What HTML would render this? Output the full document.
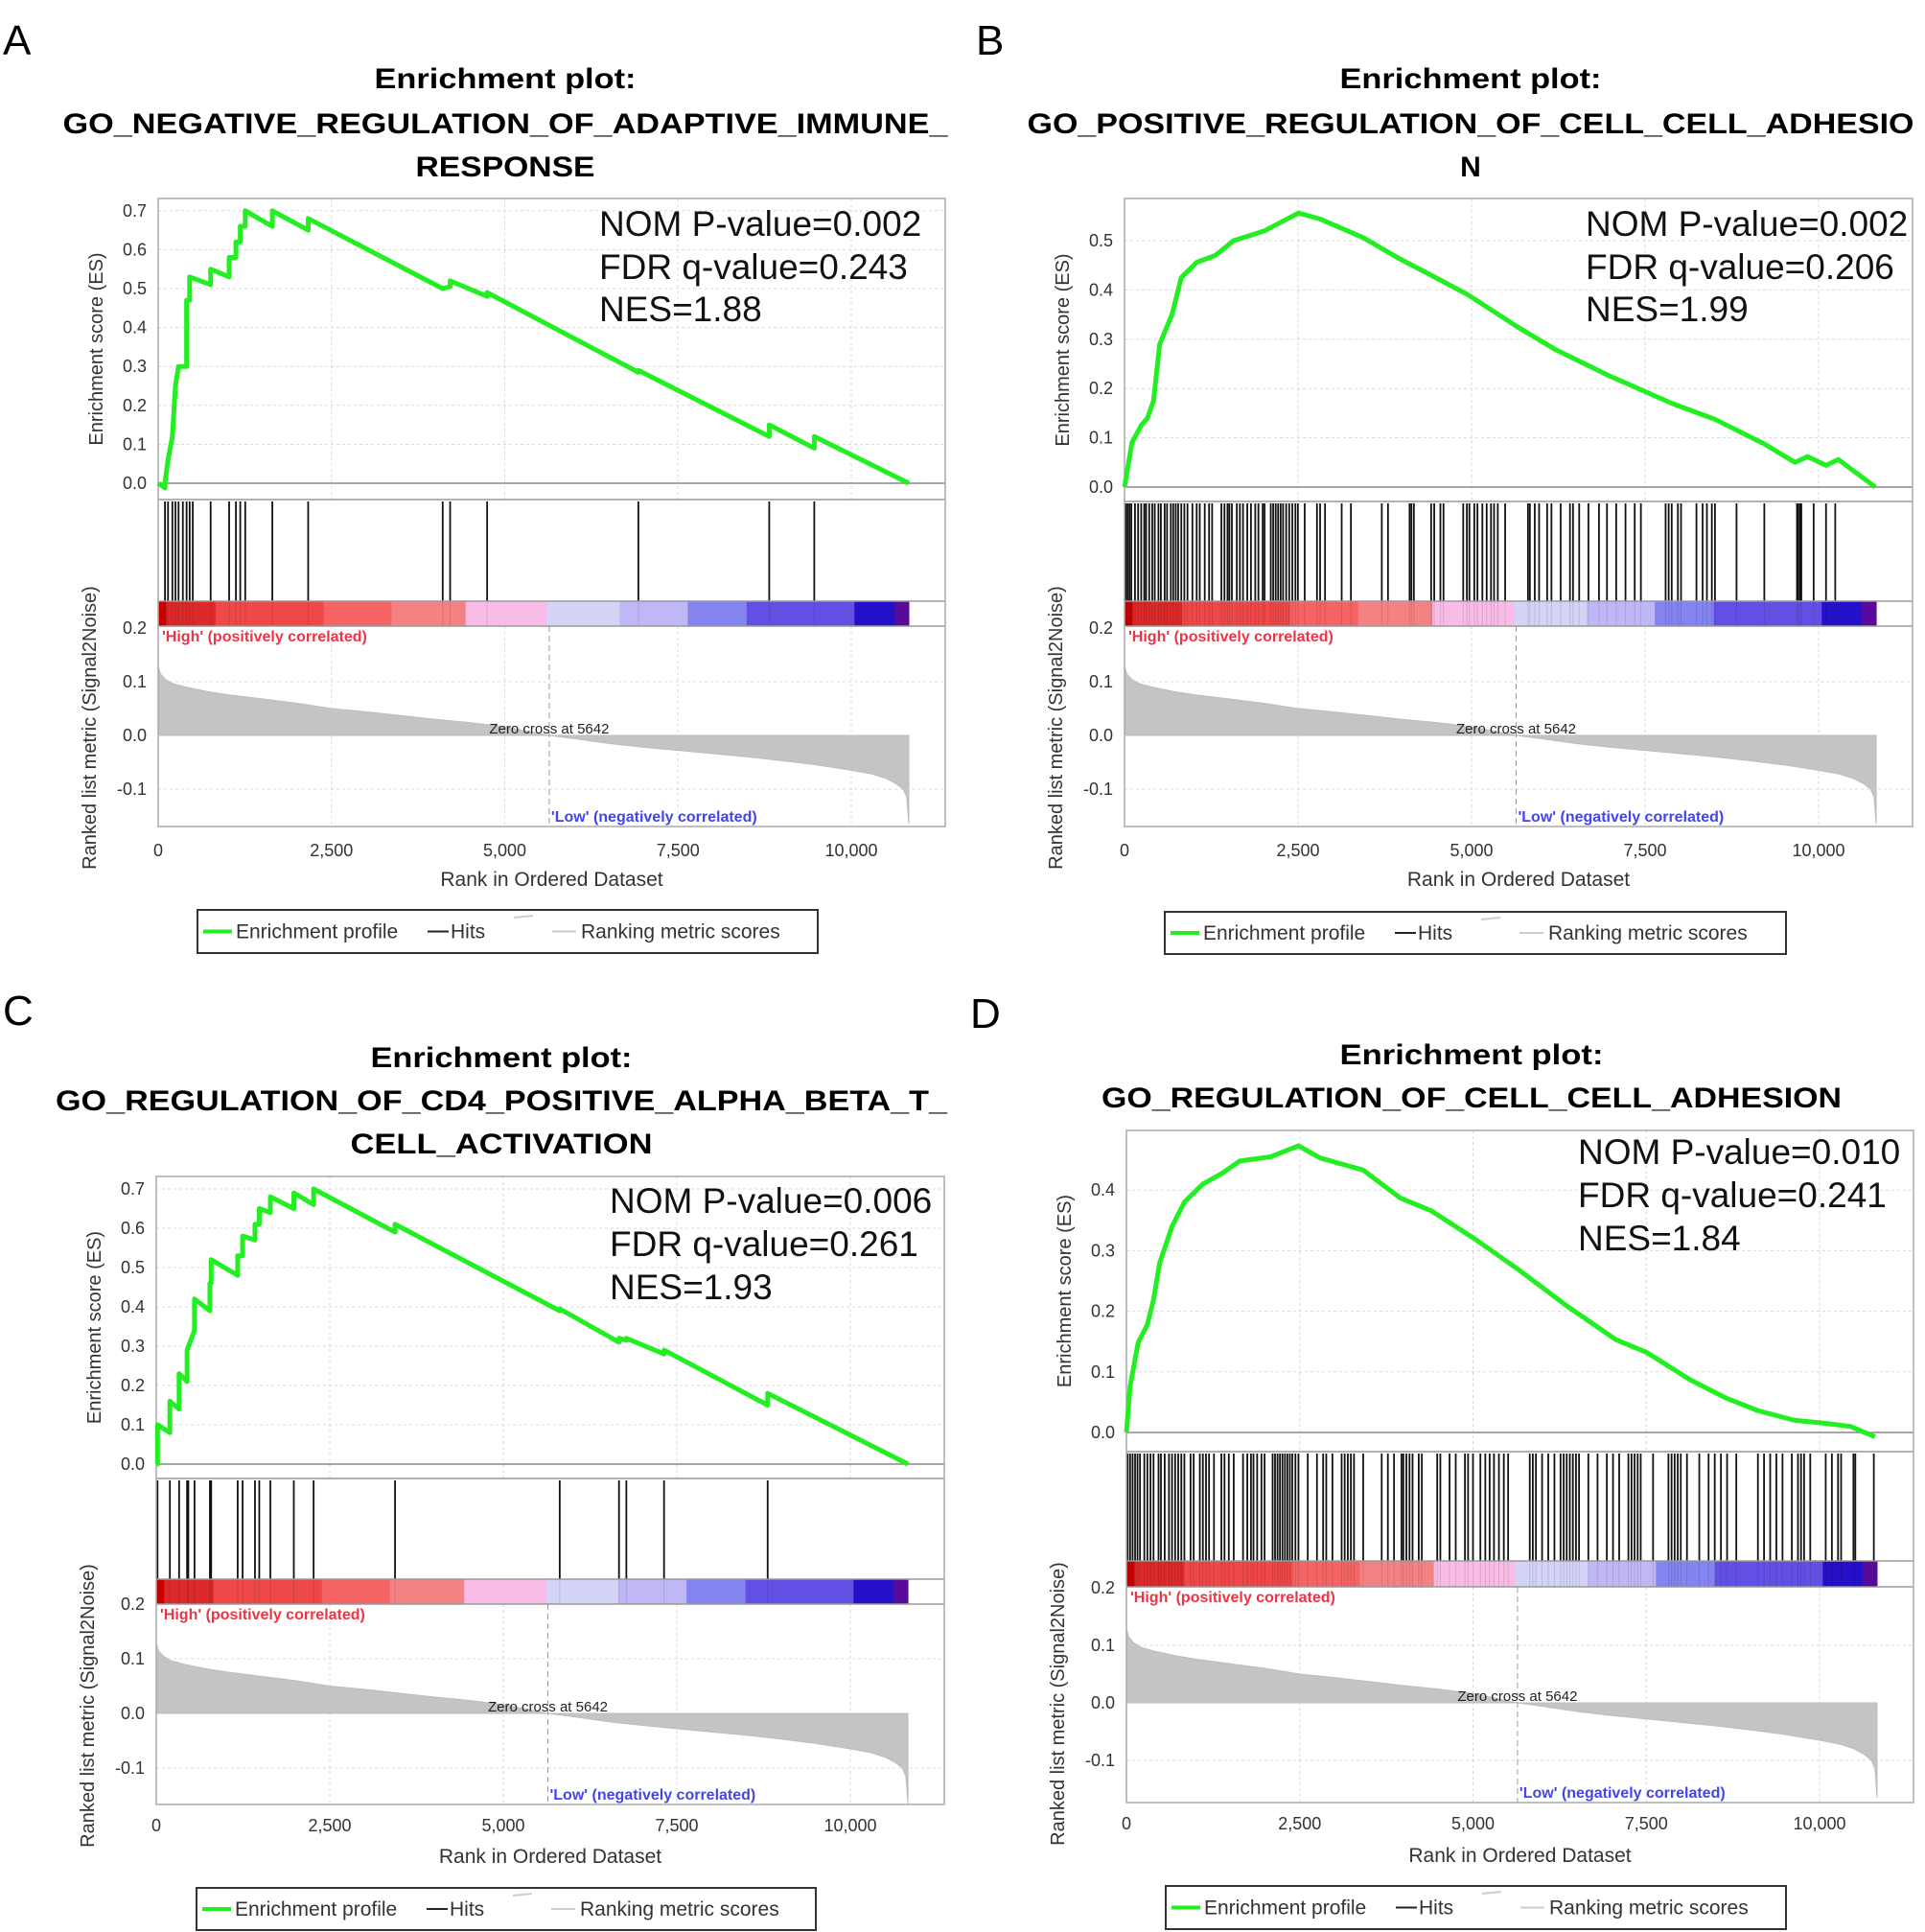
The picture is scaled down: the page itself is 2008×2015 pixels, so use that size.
<!DOCTYPE html>
<html><head><meta charset="utf-8"><style>
html,body{margin:0;padding:0;background:#fff;}
svg{display:block;font-family:"Liberation Sans",Arial,sans-serif;}
</style></head><body>
<svg id="fig" width="2008" height="2015" viewBox="0 0 2008 2015" xmlns="http://www.w3.org/2000/svg"></svg>
<script>
// ---------- DATA ----------
const xTickVals = [0, 2500, 5000, 7500, 10000];
const xTickLabels = ["0", "2,500", "5,000", "7,500", "10,000"];
const metricTickVals = [0.2, 0.1, 0.0, -0.1];
const metricTickLabels = ["0.2", "0.1", "0.0", "-0.1"];
const metricRanks = [0, 30, 100, 200, 400, 700, 1000, 1500, 2000, 2500, 3000, 3500, 4000, 4500, 5000, 5642, 6000, 6500, 7000, 7500, 8000, 8500, 9000, 9500, 10000, 10300, 10500, 10650, 10750, 10800, 10830];
const metricVals = [0.13, 0.115, 0.105, 0.097, 0.09, 0.082, 0.076, 0.068, 0.06, 0.05, 0.044, 0.037, 0.03, 0.024, 0.016, 0, -0.006, -0.015, -0.022, -0.028, -0.034, -0.04, -0.047, -0.055, -0.065, -0.072, -0.08, -0.09, -0.1, -0.115, -0.165];
const barRanks = [0, 116, 828, 2386, 3366, 4435, 5610, 6660, 7640, 8490, 10045, 10625, 10830];
const barColors = ["#c80000", "#dc2a2a", "#ee4848", "#f46464", "#f58282", "#f8bce6", "#d4d4f8", "#c0b8f6", "#8484f0", "#6250e4", "#2410c8", "#5a0a9a"];

const esTicksA = [0, 0.1, 0.2, 0.3, 0.4, 0.5, 0.6, 0.7];
const esTicksB = [0, 0.1, 0.2, 0.3, 0.4, 0.5];
const esTicksD = [0, 0.1, 0.2, 0.3, 0.4];

const esRankA = [0, 98, 98, 142, 142, 205, 205, 249, 249, 294, 294, 356, 410, 410, 454, 454, 757, 757, 1024, 1024, 1122, 1122, 1184, 1184, 1256, 1256, 1647, 1647, 2164, 2164, 4105, 4212, 4212, 4746, 4746, 6928, 6928, 8816, 8816, 9466, 9466, 10830];
const esValA  = [0, -0.012, 0.0, 0.06, 0.06, 0.12, 0.12, 0.25, 0.25, 0.30, 0.30, 0.30, 0.30, 0.47, 0.47, 0.53, 0.51, 0.55, 0.53, 0.58, 0.58, 0.62, 0.62, 0.66, 0.66, 0.70, 0.66, 0.70, 0.65, 0.68, 0.50, 0.505, 0.52, 0.48, 0.49, 0.285, 0.29, 0.12, 0.15, 0.09, 0.12, 0.0];
const hitsA = [98, 142, 205, 249, 294, 356, 410, 454, 499, 757, 1024, 1122, 1184, 1256, 1647, 2164, 4105, 4212, 4746, 6928, 8816, 9466];

const esRankB = [0, 107, 240, 330, 418, 507, 684, 818, 1040, 1307, 1573, 2018, 2507, 2818, 3440, 3973, 4418, 4951, 5662, 6196, 6996, 7884, 8507, 9218, 9662, 9840, 10107, 10284, 10818];
const esValB  = [0, 0.09, 0.125, 0.14, 0.175, 0.29, 0.35, 0.425, 0.456, 0.47, 0.5, 0.52, 0.556, 0.544, 0.506, 0.4625, 0.43, 0.39, 0.325, 0.28, 0.225, 0.17, 0.1375, 0.0875, 0.05, 0.062, 0.044, 0.056, 0];
const hitsB = [18, 44, 71, 98, 151, 196, 240, 284, 311, 356, 400, 436, 489, 524, 578, 613, 667, 702, 738, 773, 818, 862, 907, 978, 1040, 1084, 1156, 1218, 1262, 1396, 1440, 1484, 1511, 1547, 1618, 1662, 1707, 1769, 1822, 1884, 1929, 1991, 2018, 2107, 2142, 2178, 2213, 2249, 2284, 2329, 2373, 2418, 2462, 2498, 2596, 2773, 2818, 2889, 3129, 3262, 3707, 3796, 4107, 4133, 4169, 4418, 4462, 4551, 4596, 4880, 4933, 4969, 5040, 5085, 5156, 5218, 5280, 5324, 5378, 5484, 5813, 5840, 5911, 5973, 6089, 6151, 6284, 6418, 6462, 6551, 6684, 6836, 6951, 7084, 7218, 7351, 7440, 7796, 7840, 7884, 7973, 8018, 8240, 8329, 8391, 8462, 8507, 8818, 9218, 9689, 9707, 9733, 9751, 9929, 10107, 10240];

const esRankC = [0, 18, 18, 196, 196, 329, 329, 444, 444, 551, 551, 773, 773, 791, 791, 1173, 1173, 1244, 1244, 1422, 1422, 1484, 1484, 1644, 1644, 1982, 1982, 2267, 2267, 3440, 3440, 5813, 5813, 6667, 6667, 6773, 6773, 7316, 7316, 8809, 8809, 10830];
const esValC  = [0, 0.0, 0.10, 0.08, 0.16, 0.14, 0.23, 0.21, 0.29, 0.34, 0.42, 0.39, 0.46, 0.46, 0.52, 0.48, 0.53, 0.53, 0.58, 0.57, 0.61, 0.61, 0.65, 0.64, 0.68, 0.65, 0.69, 0.66, 0.70, 0.59, 0.61, 0.39, 0.395, 0.31, 0.32, 0.315, 0.32, 0.28, 0.29, 0.15, 0.18, 0.0];
const hitsC = [18, 196, 329, 444, 462, 551, 773, 791, 1173, 1244, 1422, 1484, 1644, 1982, 2267, 3440, 5813, 6667, 6773, 7316, 8809];

const esRankD = [0, 53, 169, 302, 391, 480, 658, 836, 1103, 1370, 1637, 2082, 2482, 2794, 3416, 3950, 4395, 5018, 5641, 6352, 7064, 7509, 8132, 8666, 9111, 9644, 10089, 10445, 10800];
const esValD  = [0, 0.076, 0.148, 0.178, 0.219, 0.28, 0.34, 0.38, 0.41, 0.427, 0.448, 0.455, 0.473, 0.453, 0.433, 0.387, 0.366, 0.32, 0.27, 0.209, 0.153, 0.132, 0.087, 0.056, 0.036, 0.02, 0.015, 0.01, -0.007];
const hitsD = [18, 53, 89, 125, 160, 196, 258, 302, 347, 391, 463, 498, 552, 614, 658, 703, 747, 792, 836, 925, 970, 1059, 1103, 1148, 1192, 1263, 1370, 1415, 1477, 1548, 1682, 1744, 1797, 1833, 1886, 1948, 1993, 2109, 2144, 2180, 2215, 2251, 2287, 2322, 2358, 2393, 2438, 2482, 2616, 2749, 2838, 2883, 2972, 3105, 3149, 3194, 3238, 3283, 3416, 3683, 3772, 3861, 3968, 3995, 4039, 4084, 4128, 4217, 4262, 4484, 4529, 4662, 4751, 4884, 4929, 5000, 5107, 5178, 5240, 5303, 5374, 5445, 5507, 5819, 5863, 5908, 5997, 6086, 6175, 6263, 6308, 6352, 6397, 6441, 6486, 6530, 6664, 6797, 6931, 7020, 7109, 7242, 7287, 7331, 7376, 7420, 7598, 7820, 7865, 7909, 7954, 7998, 8087, 8265, 8399, 8488, 8577, 8666, 8799, 9111, 9199, 9288, 9377, 9466, 9600, 9689, 9733, 9777, 9866, 10089, 10178, 10267, 10311, 10489, 10516, 10783];

// ---------- LAYOUT ----------
const panels = [
 {id:"a", letter:"A", lx:3, ly:57, L:165, R:986, T:207, esZero:504, esPer:406, div:521, hitsB:627, barB:653, met0:767, metPer:560, bottom:862, xPer:0.0723, tickY:893, xlabY:924, leg:[206,949,647,45],
  titles:["Enrichment plot:","GO_NEGATIVE_REGULATION_OF_ADAPTIVE_IMMUNE_","RESPONSE"], tx:527, ty:[92,139,184], tls:[273,923,187],
  stats:["NOM P-value=0.002","FDR q-value=0.243","NES=1.88"], sx:625, sy:[246,291,335],
  esR:esRankA, esV:esValA, hits:hitsA, esTicks:esTicksA},
 {id:"b", letter:"B", lx:1018, ly:57, L:1173, R:1995, T:207, esZero:508, esPer:514, div:523, hitsB:627, barB:653, met0:767, metPer:560, bottom:862, xPer:0.0724, tickY:893, xlabY:924, leg:[1215,951,648,44],
  titles:["Enrichment plot:","GO_POSITIVE_REGULATION_OF_CELL_CELL_ADHESIO","N"], tx:1534, ty:[92,139,184], tls:[273,925,0],
  stats:["NOM P-value=0.002","FDR q-value=0.206","NES=1.99"], sx:1654, sy:[246,291,335],
  esR:esRankB, esV:esValB, hits:hitsB, esTicks:esTicksB},
 {id:"c", letter:"C", lx:3, ly:1069, L:163, R:985, T:1227, esZero:1527, esPer:410, div:1542, hitsB:1647, barB:1673, met0:1787, metPer:570, bottom:1882, xPer:0.0724, tickY:1910, xlabY:1943, leg:[205,1969,646,44],
  titles:["Enrichment plot:","GO_REGULATION_OF_CD4_POSITIVE_ALPHA_BETA_T_","CELL_ACTIVATION"], tx:523, ty:[1113,1158,1203], tls:[273,930,315],
  stats:["NOM P-value=0.006","FDR q-value=0.261","NES=1.93"], sx:636, sy:[1265,1310,1355],
  esR:esRankC, esV:esValC, hits:hitsC, esTicks:esTicksA},
 {id:"d", letter:"D", lx:1012, ly:1072, L:1175, R:1996, T:1179, esZero:1494, esPer:632, div:1514, hitsB:1628, barB:1655, met0:1776, metPer:600, bottom:1880, xPer:0.0723, tickY:1908, xlabY:1942, leg:[1216,1967,647,45],
  titles:["Enrichment plot:","GO_REGULATION_OF_CELL_CELL_ADHESION"], tx:1535, ty:[1110,1155], tls:[275,772],
  stats:["NOM P-value=0.010","FDR q-value=0.241","NES=1.84"], sx:1646, sy:[1214,1259,1304],
  esR:esRankD, esV:esValD, hits:hitsD, esTicks:esTicksD}
];

const NS = "http://www.w3.org/2000/svg";
const svg = document.getElementById("fig");
function mk(tag, attrs, parent, text) {
  const e = document.createElementNS(NS, tag);
  for (const k in attrs) e.setAttribute(k, attrs[k]);
  if (text !== undefined) e.textContent = text;
  (parent || svg).appendChild(e);
  return e;
}

panels.forEach(p => {
  const g = mk("g", {});
  
  
  const X = r => p.L + r * p.xPer;
  const YE = v => p.esZero - v * p.esPer;
  const YM = v => p.met0 - v * p.metPer;

  const lt = mk("text", {x:p.lx, y:p.ly, "font-size":44, fill:"#000"}, g, p.letter);
  
  

  p.titles.forEach((t, i) => {
    const a = {x:p.tx, y:p.ty[i], "font-size":30, "font-weight":"bold", "text-anchor":"middle", fill:"#000"};
    if (p.tls[i]) { a.textLength = p.tls[i]; a.lengthAdjust = "spacingAndGlyphs"; }
    const te = mk("text", a, g, t);
    
    
  });

  // grid lines
  xTickVals.forEach(v => {
    const l1 = mk("line", {x1:X(v), x2:X(v), y1:p.T, y2:p.div, stroke:"#d8d8d8", "stroke-dasharray":"3,3", "stroke-width":1}, g);
    
    
    const l2 = mk("line", {x1:X(v), x2:X(v), y1:p.barB, y2:p.bottom, stroke:"#d8d8d8", "stroke-dasharray":"3,3", "stroke-width":1}, g);
    
    
  });
  p.esTicks.forEach(v => {
    if (v !== 0) {
      const gl = mk("line", {x1:p.L, x2:p.R, y1:YE(v), y2:YE(v), stroke:"#d8d8d8", "stroke-dasharray":"3,3"}, g);
      
      
    }
    const tt = mk("text", {x:p.L - 12, y:YE(v) + 6, "font-size":18, "text-anchor":"end", fill:"#333"}, g, v.toFixed(1));
    
    
  });
  metricTickVals.forEach((v, i) => {
    if (v !== 0 && v !== 0.2) {
      const gl = mk("line", {x1:p.L, x2:p.R, y1:YM(v), y2:YM(v), stroke:"#d8d8d8", "stroke-dasharray":"3,3"}, g);
      
      
    }
    const tt = mk("text", {x:p.L - 12, y:YM(v) + 6, "font-size":18, "text-anchor":"end", fill:"#333"}, g, metricTickLabels[i]);
    
    
  });

  // metric fill
  let d = "M" + X(metricRanks[0]) + "," + YM(0);
  metricRanks.forEach((r, i) => { d += " L" + X(r) + "," + YM(metricVals[i]); });
  d += " L" + X(metricRanks[metricRanks.length - 1]) + "," + YM(0) + " Z";
  const mf = mk("path", {d:d, fill:"#c4c4c4", stroke:"#bdbdbd", "stroke-width":1}, g);
  
  

  // zero cross
  const zx = X(5642);
  const zl = mk("line", {x1:zx, x2:zx, y1:p.barB, y2:p.bottom, stroke:"#999", "stroke-dasharray":"6,4"}, g);
  
  
  const zt = mk("text", {x:zx, y:YM(0) - 2, "font-size":15, "text-anchor":"middle", fill:"#222"}, g, "Zero cross at 5642");
  
  
  const hl = mk("text", {x:p.L + 4, y:p.barB + 16, "font-size":16, "font-weight":"bold", fill:"#ee3344"}, g, "'High' (positively correlated)");
  
  
  const lw = mk("text", {x:zx + 2, y:p.bottom - 5, "font-size":16, "font-weight":"bold", fill:"#4444ee"}, g, "'Low' (negatively correlated)");
  
  

  // colour bar
  barColors.forEach((c, i) => {
    const r = mk("rect", {x:X(barRanks[i]), y:p.hitsB, width:X(barRanks[i + 1]) - X(barRanks[i]) + 0.5, height:p.barB - p.hitsB, fill:c}, g);
    
    
  });

  // hits
  p.hits.forEach(h => {
    const l = mk("line", {x1:X(h), x2:X(h), y1:p.div + 2, y2:p.hitsB, stroke:"#111", "stroke-width":1.8}, g);
    
    
    const l2 = mk("line", {x1:X(h), x2:X(h), y1:p.hitsB, y2:p.barB, stroke:"#000", "stroke-width":1, "stroke-opacity":0.12}, g);
    
    
  });

  // separators & frame
  [p.div, p.hitsB, p.barB].forEach(y => {
    const s = mk("line", {x1:p.L, x2:p.R, y1:y, y2:y, stroke:"#999", "stroke-width":1.5}, g);
    
    
  });
  const ez = mk("line", {x1:p.L, x2:p.R, y1:YE(0), y2:YE(0), stroke:"#888", "stroke-width":1.5}, g);
  
  
  const fr = mk("rect", {x:p.L, y:p.T, width:p.R - p.L, height:p.bottom - p.T, fill:"none", stroke:"#aaa", "stroke-width":1.5}, g);
  
  

  // ES curve
  const pts = p.esR.map((r, i) => X(r) + "," + YE(p.esV[i])).join(" ");
  const es = mk("polyline", {points:pts, fill:"none", stroke:"#22ee22", "stroke-width":5, "stroke-linejoin":"round"}, g);
  
  

  // stats
  p.stats.forEach((s, i) => {
    const t = mk("text", {x:p.sx, y:p.sy[i], "font-size":37, fill:"#111"}, g, s);
    
    
  });

  // x ticks
  xTickVals.forEach((v, i) => {
    const t = mk("text", {x:X(v), y:p.tickY, "font-size":18, "text-anchor":"middle", fill:"#333"}, g, xTickLabels[i]);
    
    
  });
  const xl = mk("text", {x:(p.L + p.R) / 2, y:p.xlabY, "font-size":21, "text-anchor":"middle", fill:"#333"}, g, "Rank in Ordered Dataset");
  
  
  const ey = (p.T + p.div) / 2, ex = p.L - 58;
  const yl1 = mk("text", {x:ex, y:ey, "font-size":20, "text-anchor":"middle", fill:"#333", transform:"rotate(-90 " + ex + " " + ey + ")"}, g, "Enrichment score (ES)");
  
  
  const my = p.bottom - 103, mx = p.L - 65;
  const yl2 = mk("text", {x:mx, y:my, "font-size":20, "text-anchor":"middle", fill:"#333", transform:"rotate(-90 " + mx + " " + my + ")"}, g, "Ranked list metric (Signal2Noise)");
  
  

  // legend
  const [lx, ly, lwid, lh] = p.leg;
  const lg = mk("g", {}, g);
  
  
  mk("rect", {x:lx, y:ly, width:lwid, height:lh, fill:"#fff", stroke:"#333", "stroke-width":2}, lg);
  const cy = ly + lh / 2;
  mk("line", {x1:lx + 6, x2:lx + 36, y1:cy, y2:cy, stroke:"#22ee22", "stroke-width":4}, lg);
  const t1 = mk("text", {x:lx + 40, y:cy + 7, "font-size":21, fill:"#333"}, lg, "Enrichment profile");
  
  
  mk("line", {x1:lx + 240, x2:lx + 262, y1:cy, y2:cy, stroke:"#222", "stroke-width":2}, lg);
  const t2 = mk("text", {x:lx + 264, y:cy + 7, "font-size":21, fill:"#333"}, lg, "Hits");
  
  
  mk("line", {x1:lx + 330, x2:lx + 350, y1:ly + 8, y2:ly + 6, stroke:"#ccc", "stroke-width":2}, lg);
  mk("line", {x1:lx + 370, x2:lx + 395, y1:cy, y2:cy, stroke:"#ccc", "stroke-width":2}, lg);
  const t3 = mk("text", {x:lx + 400, y:cy + 7, "font-size":21, fill:"#333"}, lg, "Ranking metric scores");
  
  
});
</script>
</body></html>
